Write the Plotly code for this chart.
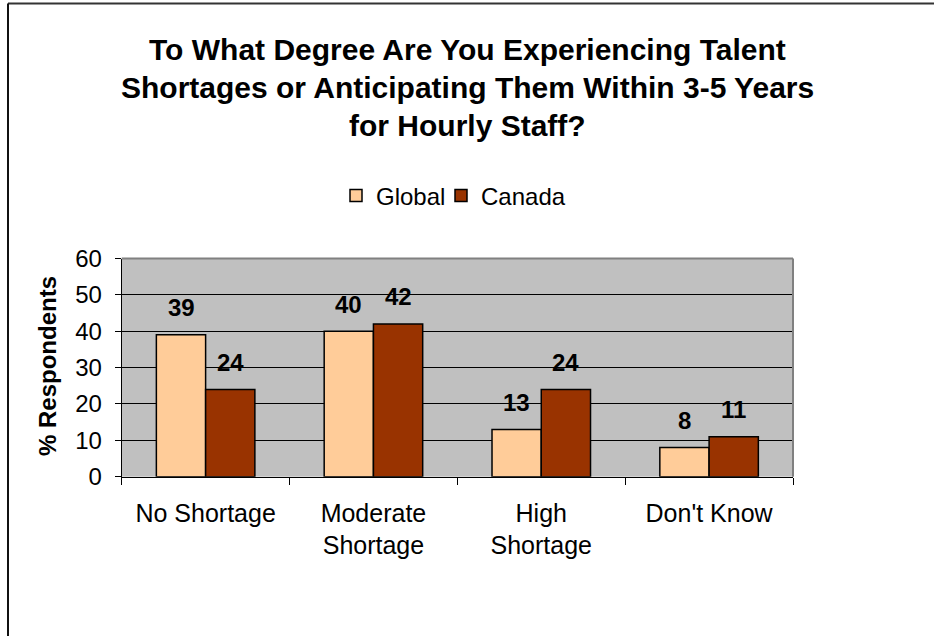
import plotly.graph_objects as go

# Survey results (% of respondents)
categories = ["No Shortage", "Moderate<br>Shortage", "High<br>Shortage", "Don't Know"]
global_vals = [39, 40, 13, 8]
canada_vals = [24, 42, 24, 11]
series_names = ["Global", "Canada"]
y_ticks = [0, 10, 20, 30, 40, 50, 60]
title_lines = [
    "To What Degree Are You Experiencing Talent",
    "Shortages or Anticipating Them Within 3-5 Years",
    "for Hourly Staff?",
]

W, H = 934, 636
FONT = "Liberation Sans, Arial, sans-serif"
colors = ["#FFCC99", "#993300"]
legend_ids = ["legend", "legend2"]

fig = go.Figure()
for name, vals, col, lg in zip(series_names, [global_vals, canada_vals], colors, legend_ids):
    fig.add_trace(go.Bar(
        x=categories, y=vals, name=name, legend=lg,
        marker=dict(color=col, line=dict(color="black", width=1.5)),
        hoverinfo="skip",
    ))

# value labels above each bar
bar_half = 24.6
for shift, vals in zip([-bar_half, bar_half], [global_vals, canada_vals]):
    for c, v in zip(categories, vals):
        fig.add_annotation(
            x=c, y=v, xref="x", yref="y", text=f"<b>{v}</b>",
            showarrow=False, xshift=shift, yshift=27, yanchor="middle",
            font=dict(family=FONT, size=24, color="black"),
        )

# multi-line title
for line, yc in zip(title_lines, [49, 87, 125]):
    fig.add_annotation(
        x=0.5, y=1 - yc / H, xref="paper", yref="paper",
        text=f"<b>{line}</b>", showarrow=False,
        xanchor="center", yanchor="middle",
        font=dict(family=FONT, size=30, color="black"),
    )

# y-axis title
fig.add_annotation(
    x=47 / W, y=1 - 366 / H, xref="paper", yref="paper",
    text="<b>% Respondents</b>", textangle=-90, showarrow=False,
    xanchor="center", yanchor="middle",
    font=dict(family=FONT, size=24, color="black"),
)

# plot-area top / right border in grey
fig.add_shape(type="line", xref="x domain", yref="y domain",
              x0=0, x1=1, y0=1, y1=1, line=dict(color="#808080", width=2), layer="above")
fig.add_shape(type="line", xref="x domain", yref="y domain",
              x0=1, x1=1, y0=0, y1=1, line=dict(color="#808080", width=2), layer="above")

# outer chart frame (top and left edges)
fig.add_shape(type="line", xref="paper", yref="paper",
              x0=8 / W, x1=1, y0=1 - 3.5 / H, y1=1 - 3.5 / H,
              line=dict(color="#333333", width=2))
fig.add_shape(type="line", xref="paper", yref="paper",
              x0=8 / W, x1=8 / W, y0=0, y1=1 - 3.5 / H,
              line=dict(color="#111111", width=2))

legend_style = dict(
    orientation="h", xanchor="left", y=1 - 196 / H, yanchor="middle",
    font=dict(family=FONT, size=24, color="black"),
    bgcolor="rgba(0,0,0,0)", itemclick=False, itemdoubleclick=False,
)

fig.update_layout(
    template="none",
    width=W, height=H, autosize=False,
    margin=dict(l=0, r=0, t=0, b=0, pad=0),
    paper_bgcolor="white",
    plot_bgcolor="#C0C0C0",
    barmode="group", bargap=0.413, bargroupgap=0,
    font=dict(family=FONT, size=24, color="black"),
    showlegend=True,
    legend=dict(x=336 / W, **legend_style),
    legend2=dict(x=441 / W, **legend_style),
    xaxis=dict(
        domain=[121.7 / W, 793 / W],
        type="category", tickson="boundaries",
        ticks="outside", ticklen=7, tickcolor="black", tickwidth=1,
        showline=True, linecolor="black", linewidth=1,
        showgrid=False, automargin=False,
        tickfont=dict(family=FONT, size=25, color="black"),
        ticklabelstandoff=14,
    ),
    yaxis=dict(
        domain=[1 - 476.7 / H, 1 - 258.5 / H],
        range=[0, 60], tickvals=y_ticks,
        ticks="outside", ticklen=6, tickcolor="black", tickwidth=1,
        showline=True, linecolor="black", linewidth=1,
        showgrid=True, gridcolor="black", gridwidth=1,
        zeroline=False, automargin=False,
        tickfont=dict(family=FONT, size=24, color="black"),
        ticklabelstandoff=8,
    ),
)

fig.write_html("out.html")
